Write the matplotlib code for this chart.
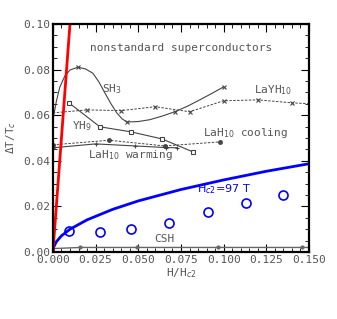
import numpy as np
import matplotlib
matplotlib.use("Agg")
import matplotlib.pyplot as plt
from matplotlib.ticker import MultipleLocator

# SH3 curve (solid) and its marker positions
sh3_x = [0.0, 0.002, 0.004, 0.007, 0.010, 0.0146, 0.019, 0.0234, 0.027, 0.0304, 0.034,
         0.0374, 0.0405, 0.0433, 0.050, 0.0567, 0.064, 0.0714, 0.079, 0.086, 0.093, 0.100]
sh3_y = [0.058, 0.066, 0.0722, 0.0772, 0.0798, 0.081, 0.0803, 0.0784, 0.0745, 0.0698, 0.065,
         0.061, 0.0584, 0.057, 0.0572, 0.058, 0.0596, 0.0615, 0.064, 0.0667, 0.0695, 0.0724]
sh3_marks = [5, 13, 17, 21]

# LaYH10 (dashed)
layh_x = [0.0, 0.020, 0.040, 0.060, 0.080, 0.100, 0.120, 0.140, 0.150]
layh_y = [0.061, 0.0623, 0.062, 0.0637, 0.0615, 0.0663, 0.0667, 0.0654, 0.065]
layh_marks = [1, 2, 3, 4, 5, 6, 7]

# YH9 (solid, squares)
yh9_x = [0.0094, 0.0275, 0.0456, 0.0638, 0.082]
yh9_y = [0.0654, 0.0549, 0.0527, 0.0496, 0.0439]

# LaH10 cooling (dashed) / warming (solid)
cool_x = [0.0, 0.033, 0.0655, 0.098]
cool_y = [0.047, 0.049, 0.0465, 0.0483]
warm_x = [0.0, 0.025, 0.048, 0.066, 0.0725]
warm_y = [0.0457, 0.0474, 0.0465, 0.0458, 0.0457]

# CSH (gray, near zero) and blue open circles
csh_x = [0.0, 0.016, 0.049, 0.0966, 0.146, 0.150]
csh_y = [0.0015, 0.002, 0.002, 0.002, 0.002, 0.002]
csh_marks = [1, 2, 3, 4]
circ_x = [0.0094, 0.0275, 0.0456, 0.068, 0.0907, 0.113, 0.135]
circ_y = [0.0092, 0.0088, 0.0101, 0.0127, 0.0176, 0.0215, 0.025]

# blue Hc2 = 97 T curve
blue_x = [0.0, 0.0005, 0.002, 0.005, 0.01, 0.02, 0.035, 0.05, 0.075, 0.1, 0.125, 0.15]
blue_y = [0.0, 0.0022, 0.0045, 0.0071, 0.010, 0.0141, 0.0187, 0.0224, 0.0274, 0.0316, 0.0354, 0.0387]

# red steep line
red_x = [0.0, 0.0105]
red_y = [0.0, 0.105]

txt = "#555555"
plt.rcParams["font.family"] = ["DejaVu Sans Mono", "DejaVu Sans"]
plt.rcParams["font.size"] = 8

fig = plt.figure(figsize=(3.37, 3.19), dpi=100)
ax = fig.add_axes([0.157, 0.21, 0.76, 0.715])

lc = "#444444"
ax.plot(sh3_x, sh3_y, "-", color=lc, lw=0.8, marker="x", ms=3.5, mew=0.8, markevery=sh3_marks)
ax.plot(layh_x, layh_y, "--", color=lc, lw=0.7, dashes=(2.5, 1.5), marker="x", ms=3.5, mew=0.8, markevery=layh_marks)
ax.plot(yh9_x, yh9_y, "-", color=lc, lw=0.8, marker="s", ms=3.5, mfc="white", mew=0.8)
ax.plot(cool_x, cool_y, "--", color=lc, lw=0.7, dashes=(2.5, 1.5), marker="o", ms=2.5)
ax.plot(warm_x, warm_y, "-", color=lc, lw=0.8, marker="+", ms=3.5, mew=0.8)
ax.plot(csh_x, csh_y, "-", color="#666666", lw=1.0, marker="o", ms=2, markevery=csh_marks)

ax.plot(circ_x, circ_y, "o", mfc="none", mec="blue", ms=6.5, mew=1.2, clip_on=False)
ax.plot(blue_x, blue_y, "-", color="blue", lw=2)
ax.plot(red_x, red_y, "-", color="red", lw=2)

ax.text(0.022, 0.0896, "nonstandard superconductors", color=txt, fontsize=8, va="center")
ax.text(0.0287, 0.0716, "SH$_3$", color=txt, fontsize=8, va="center")
ax.text(0.011, 0.055, "YH$_9$", color=txt, fontsize=8, va="center")
ax.text(0.0205, 0.0426, "LaH$_{10}$ warming", color=txt, fontsize=8, va="center")
ax.text(0.1177, 0.071, "LaYH$_{10}$", color=txt, fontsize=8, va="center")
ax.text(0.0878, 0.052, "LaH$_{10}$ cooling", color=txt, fontsize=8, va="center")
ax.text(0.0843, 0.0277, "H$_{c2}$=97 T", color="blue", fontsize=8, va="center",
        family="DejaVu Sans")
ax.text(0.065, 0.0057, "CSH", color=txt, fontsize=8, ha="center", va="center")

ax.set_xlim(0, 0.150)
ax.set_ylim(0, 0.10)
ax.xaxis.set_major_locator(MultipleLocator(0.025))
ax.xaxis.set_minor_locator(MultipleLocator(0.005))
ax.yaxis.set_major_locator(MultipleLocator(0.02))
ax.yaxis.set_minor_locator(MultipleLocator(0.005))
ax.xaxis.set_major_formatter(plt.FormatStrFormatter("%.3f"))
ax.yaxis.set_major_formatter(plt.FormatStrFormatter("%.2f"))
ax.tick_params(which="both", direction="in", top=True, right=True, colors="black",
               labelcolor=txt, labelsize=8)
ax.tick_params(which="major", length=6, width=0.8, pad=2)
ax.tick_params(which="minor", length=3, width=0.6)
for s in ax.spines.values():
    s.set_linewidth(1.6)

ax.set_xlabel("H/H$_{c2}$", color=txt, fontsize=8, labelpad=1)
ax.set_ylabel("ΔT/T$_c$", color=txt, fontsize=8, labelpad=4)

fig.savefig("out.png", dpi=100)
